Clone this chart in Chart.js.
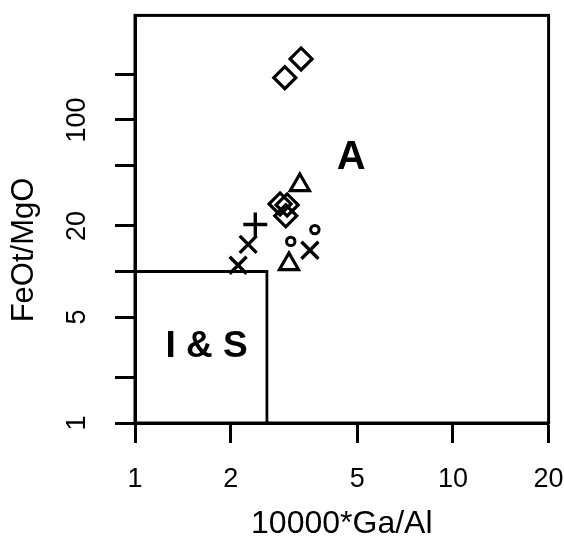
<!DOCTYPE html>
<html>
<head>
<meta charset="utf-8">
<script src="https://cdn.jsdelivr.net/npm/chart.js@4/dist/chart.umd.min.js"></script>
<style>
  html, body { margin: 0; padding: 0; background: #fff; }
  #wrap { width: 564px; height: 547px; }
</style>
</head>
<body>
<div id="wrap"><canvas id="myChart" width="564" height="547"></canvas></div>
<script>
// Data

const xTicks = [1, 2, 5, 10, 20];
const yTicks = [1, 2, 5, 10, 20, 50, 100, 200];
const yLabelled = [1, 5, 20, 100];

const diamondX = [3.33, 2.96, 2.86, 3.01, 2.98];
const diamondY = [253, 190, 27.9, 27.5, 23.3];
const triangleX = [3.30, 3.05];
const triangleY = [37.2, 11.2];
const crossX = [2.27, 2.11, 3.55];
const crossY = [15.1, 11.0, 13.8];
const plusX = [2.39];
const plusY = [20.4];
const circleX = [3.68, 3.09];
const circleY = [18.9, 15.8];

// I & S field boundary
const fieldX = [1, 2.6, 2.6];
const fieldY = [10, 10, 1];

const fieldNames = ["A", "I & S"];
const fieldNameX = [4.79, 1.68];
const fieldNameY = [56, 3.2];

const pts = (xs, ys) => xs.map((x, i) => ({ x: x, y: ys[i] }));

const markerSet = (data, style, radius, width) => ({
  data: data,
  pointStyle: style,
  pointRadius: radius,
  pointHoverRadius: radius,
  borderColor: "#000",
  backgroundColor: "rgba(0,0,0,0)",
  pointBorderWidth: width,
  borderWidth: width,
  showLine: false,
});

// plot frame, field names and y title
const extras = {
  id: "extras",
  afterDraw(chart) {
    const { ctx, chartArea, scales } = chart;
    ctx.save();
    ctx.strokeStyle = "#000";
    ctx.lineWidth = 3;
    ctx.strokeRect(chartArea.left, chartArea.top, chartArea.right - chartArea.left, chartArea.bottom - chartArea.top);

    ctx.fillStyle = "#000";
    ctx.textAlign = "center";
    ctx.textBaseline = "middle";
    fieldNames.forEach((t, i) => {
      ctx.font = i === 0 ? "bold 40px 'Liberation Sans', Arial" : "bold 37px 'Liberation Sans', Arial";
      ctx.fillText(t, scales.x.getPixelForValue(fieldNameX[i]), scales.y.getPixelForValue(fieldNameY[i]));
    });

    ctx.translate(24, 250);
    ctx.rotate(-Math.PI / 2);
    ctx.font = "31px 'Liberation Sans', Arial";
    ctx.fillText("FeOt/MgO", 0, 0);
    ctx.restore();
  },
};

const noPad = (axis) => {
  axis.paddingLeft = 0;
  axis.paddingRight = 0;
  axis.paddingTop = 0;
  axis.paddingBottom = 0;
};

const config = {
  type: "scatter",
  data: {
    datasets: [
      {
        type: "line",
        data: pts(fieldX, fieldY),
        borderColor: "#000",
        borderWidth: 2.8,
        pointRadius: 0,
        fill: false,
        tension: 0,
      },
      markerSet(pts(diamondX, diamondY), "rectRot", 11, 3.2),
      markerSet(pts(triangleX, triangleY), "triangle", 11, 3.2),
      markerSet(pts(crossX, crossY), "crossRot", 12, 3.4),
      markerSet(pts(plusX, plusY), "cross", 12, 3.4),
      markerSet(pts(circleX, circleY), "circle", 4.2, 3),
    ],
  },
  options: {
    responsive: false,
    animation: false,
    layout: { padding: { top: 10, right: 15, left: 0, bottom: 0 } },
    plugins: { legend: { display: false }, tooltip: { enabled: false } },
    scales: {
      x: {
        type: "logarithmic",
        position: "bottom",
        min: 1,
        max: 20,
        bounds: "data",
        afterBuildTicks: (axis) => {
          axis.ticks = xTicks.map((v) => ({ value: v }));
        },
        afterFit: (axis) => {
          axis.height = 124;
          noPad(axis);
        },
        ticks: {
          autoSkip: false,
          maxRotation: 0,
          padding: 20,
          color: "#000",
          font: { family: "'Liberation Sans', Arial", size: 27 },
          callback: (v) => String(v),
        },
        grid: { drawOnChartArea: false, drawTicks: true, tickLength: 20, tickWidth: 3, tickColor: "#000" },
        border: { display: true, color: "#000", width: 3 },
        title: {
          display: true,
          text: "10000*Ga/Al",
          color: "#000",
          font: { family: "'Liberation Sans', Arial", size: 32 },
          padding: { top: 0, bottom: 4 },
        },
      },
      y: {
        type: "logarithmic",
        position: "left",
        min: 1,
        max: 490,
        bounds: "data",
        afterBuildTicks: (axis) => {
          axis.ticks = yTicks.map((v) => ({ value: v }));
        },
        afterFit: (axis) => {
          axis.width = 135;
          noPad(axis);
        },
        ticks: {
          autoSkip: false,
          minRotation: 90,
          maxRotation: 90,
          crossAlign: "center",
          padding: 15,
          color: "#000",
          font: { family: "'Liberation Sans', Arial", size: 27 },
          callback: (v) => (yLabelled.includes(v) ? String(v) : ""),
        },
        grid: { drawOnChartArea: false, drawTicks: true, tickLength: 20, tickWidth: 3, tickColor: "#000" },
        border: { display: true, color: "#000", width: 3 },
      },
    },
  },
  plugins: [extras],
};

const myChart = new Chart(document.getElementById("myChart"), config);
</script>
</body>
</html>
